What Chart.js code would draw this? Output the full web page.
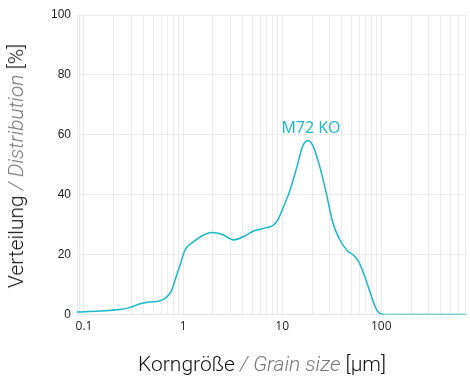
<!DOCTYPE html>
<html>
<head>
<meta charset="utf-8">
<script src="https://cdn.jsdelivr.net/npm/chart.js@4/dist/chart.umd.min.js"></script>
<style>
  html, body { margin: 0; padding: 0; background: #fff; }
  #wrap { position: relative; width: 470px; height: 376px; overflow: hidden; }
  #chart { position: absolute; left: 0; top: 0; }
  .title { position: absolute; font-family: Roboto, sans-serif; font-weight: 300; font-size: 21px; color: #111; white-space: nowrap; }
  .title i { color: #777; }
  #ytitle { left: 16px; top: 166px; transform: translate(-50%, -50%) rotate(-90deg); }
  #xtitle { left: 262px; top: 364px; transform: translate(-50%, -50%); }
</style>
</head>
<body>
<div id="wrap">
  <canvas id="chart" width="470" height="376"></canvas>
  <div class="title" id="ytitle">Verteilung <i>/ Distribution</i> [%]</div>
  <div class="title" id="xtitle">Korngröße <i>/ Grain size</i> [µm]</div>
</div>
<script>
// grain size in µm
const sizes = [0.085, 0.145, 0.229, 0.288, 0.377, 0.457, 0.575, 0.671, 0.762, 0.845, 0.948,
    1.023, 1.1, 1.239, 1.56, 1.96, 2.47, 3.24, 4.24, 5.13, 6.97, 8.13, 9.12, 10.23, 11.94, 13.9,
    16.2, 18.2, 20.4, 23.8, 27.8, 32.4, 37.8, 45.7, 53.3, 59.8, 69.7, 81.3, 91.2, 102, 114, 725];
// distribution in %
const distribution = [0.8, 1.2, 1.7, 2.3, 3.7, 4.2, 4.5, 5.6, 7.9, 12.3, 17.3,
    20.8, 22.6, 24.0, 26.3, 27.4, 26.8, 24.9, 26.3, 27.9, 29.0, 29.8, 31.8, 35.7, 41.3, 48.6,
    56.4, 58.0, 56.4, 49.7, 40.7, 30.7, 25.2, 21.2, 19.6, 17.3, 11.8, 5.1, 1.2, 0.1, 0, 0];
const seriesName = 'M72 KO';
const xLabels = [0.1, 1, 10, 100];
const yTicks = [0, 20, 40, 60, 80, 100];

const lineColor = '#19b9c5';
const gridColor = '#ebebeb';

const points = sizes.map((s, i) => ({ x: s, y: distribution[i] }));

const peakLabel = {
    id: 'peakLabel',
    afterDatasetsDraw(chart) {
        const meta = chart.getDatasetMeta(0);
        let best = 0;
        distribution.forEach((v, i) => { if (v > distribution[best]) best = i; });
        const pt = meta.data[best];
        const ctx = chart.ctx;
        ctx.save();
        ctx.font = '16px "Open Sans", sans-serif';
        ctx.fillStyle = lineColor;
        ctx.textAlign = 'center';
        ctx.textBaseline = 'middle';
        ctx.fillText(seriesName, pt.x + 3, pt.y - 12);
        ctx.restore();
    }
};

new Chart(document.getElementById('chart'), {
    type: 'line',
    data: {
        datasets: [{
            label: seriesName,
            data: points,
            borderColor: lineColor,
            borderWidth: 1.5,
            pointRadius: 0,
            fill: false,
            cubicInterpolationMode: 'monotone'
        }]
    },
    options: {
        responsive: false,
        animation: false,
        layout: { padding: { top: 15, right: 0, left: 0, bottom: 0 } },
        plugins: { legend: { display: false }, tooltip: { enabled: false } },
        scales: {
            x: {
                type: 'logarithmic',
                min: 0.085,
                max: 725,
                afterBuildTicks(scale) {
                    const t = [{ value: 0.085 }];
                    for (let e = -2; e <= 2; e++) {
                        for (let k = 1; k <= 9; k++) {
                            const v = +(k * Math.pow(10, e)).toPrecision(3);
                            if (v > 0.085 && v < 725) t.push({ value: v });
                        }
                    }
                    scale.ticks = t;
                },
                afterFit(scale) { scale.height = 61.5; },
                grid: { color: gridColor, drawTicks: false },
                border: { color: '#e6e6e6' },
                ticks: {
                    autoSkip: false,
                    maxRotation: 0,
                    padding: 5,
                    color: '#222',
                    font: { family: '"Open Sans", sans-serif', size: 12 },
                    callback(v) { return xLabels.includes(v) ? String(v) : ''; }
                }
            },
            y: {
                min: 0,
                max: 100,
                afterBuildTicks(scale) { scale.ticks = yTicks.map(v => ({ value: v })); },
                afterFit(scale) { scale.width = 77; },
                grid: { color: gridColor, drawTicks: false },
                border: { display: false },
                ticks: {
                    padding: 6,
                    color: '#222',
                    font: { family: 'Arial, "Liberation Sans", sans-serif', size: 12 }
                }
            }
        }
    },
    plugins: [peakLabel]
});
</script>
</body>
</html>
